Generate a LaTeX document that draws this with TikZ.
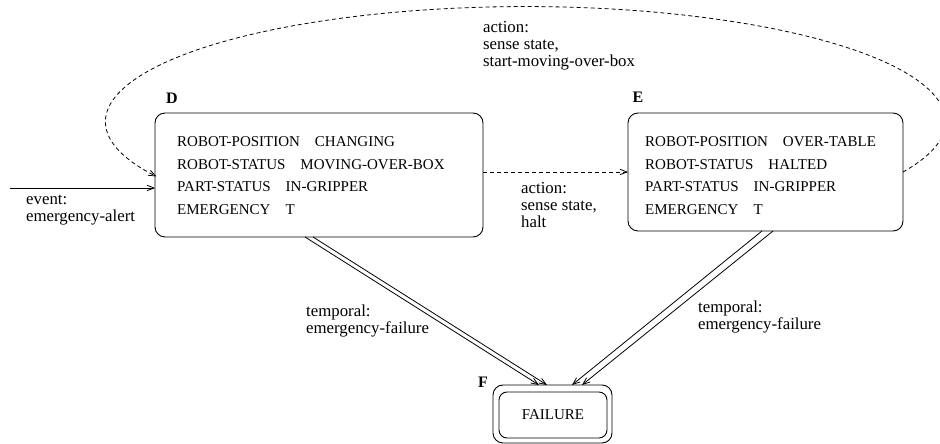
\documentclass[tikz,border=0pt]{standalone}
\usepackage{fontspec}
\setmainfont{Liberation Serif}
\usetikzlibrary{arrows.meta}
\newcommand\rows[1]{\begin{tabular}[t]{@{}l@{}}#1\end{tabular}}
\newcommand\kv[2]{#1\hspace{15pt}#2}
\tikzset{
  conn/.style={line width=0.8pt, -{Straight Barb[length=7pt,width=5.5pt]}},
  dashconn/.style={conn, dash pattern=on 4pt off 3pt},
  statebox/.style={draw, line width=0.9pt, rounded corners=10pt, inner sep=0pt, outer sep=0pt},
  boxtext/.style={anchor=base west, inner sep=0pt, font=\fontsize{15}{22.5}\selectfont},
  lbl/.style={anchor=base west, inner sep=0pt, font=\fontsize{16.8}{17}\selectfont},
  tag/.style={inner sep=0pt, font=\fontsize{16}{16}\selectfont\bfseries},
}
\begin{document}
\begin{tikzpicture}[x=1pt,y=1pt]
\useasboundingbox (0,0) rectangle (940,444);
% state boxes
\node[statebox, minimum width=328, minimum height=124] (D) at (319,269) {};
\node[statebox, minimum width=275, minimum height=118] (E) at (765.5,272) {};
\node[statebox, rounded corners=10pt, minimum width=119, minimum height=58] (F) at (552.5,30) {};
\node[statebox, rounded corners=8pt, minimum width=108, minimum height=46, font=\fontsize{15}{15}\selectfont] (Fin) at (553,29) {FAILURE};
% box contents
\node[boxtext] (Dtxt) at (177,297) {\rows{\kv{ROBOT-POSITION}{CHANGING}\\ \kv{ROBOT-STATUS}{MOVING-OVER-BOX}\\ \kv{PART-STATUS}{IN-GRIPPER}\\ \kv{EMERGENCY}{T}}};
\node[boxtext] (Etxt) at (645,297) {\rows{\kv{ROBOT-POSITION}{OVER-TABLE}\\ \kv{ROBOT-STATUS}{HALTED}\\ \kv{PART-STATUS}{IN-GRIPPER}\\ \kv{EMERGENCY}{T}}};
% tags
\node[tag] (Dtag) at (172,346) {D};
\node[tag] (Etag) at (638,347) {E};
\node[tag] (Ftag) at (483,62) {F};
% event arrow
\coordinate (evs) at (10,256);
\draw[conn] (evs) -- (evs -| D.west);
\node[lbl] (evlbl) at (26,239) {\rows{event:\\emergency-alert}};
% D -> E
\coordinate (de) at (0,272);
\draw[dashconn] (de -| D.east) -- (de -| E.west);
\node[lbl] (haltlbl) at (521,250) {\rows{action:\\sense state,\\halt}};
% E -> D top arc
\draw[dashconn] (E.east) arc[start angle=-26, end angle=208.5, x radius=420, y radius=115];
\node[lbl] (toplbl) at (483,411) {\rows{action:\\sense state,\\start-moving-over-box}};
% double arrows to F
\draw[conn] ([xshift=-14pt]D.south) -- ([xshift=-13.5pt]F.north);
\draw[conn] ([xshift=-6pt]D.south) -- ([xshift=-5.5pt]F.north);
\draw[conn] ([xshift=-3.5pt]E.south) -- ([xshift=19.5pt]F.north);
\draw[conn] ([xshift=7.5pt]E.south) -- ([xshift=29.5pt]F.north);
\node[lbl] (tl) at (306,127) {\rows{temporal:\\emergency-failure}};
\node[lbl] (tr) at (698,131) {\rows{temporal:\\emergency-failure}};
\end{tikzpicture}
\end{document}
